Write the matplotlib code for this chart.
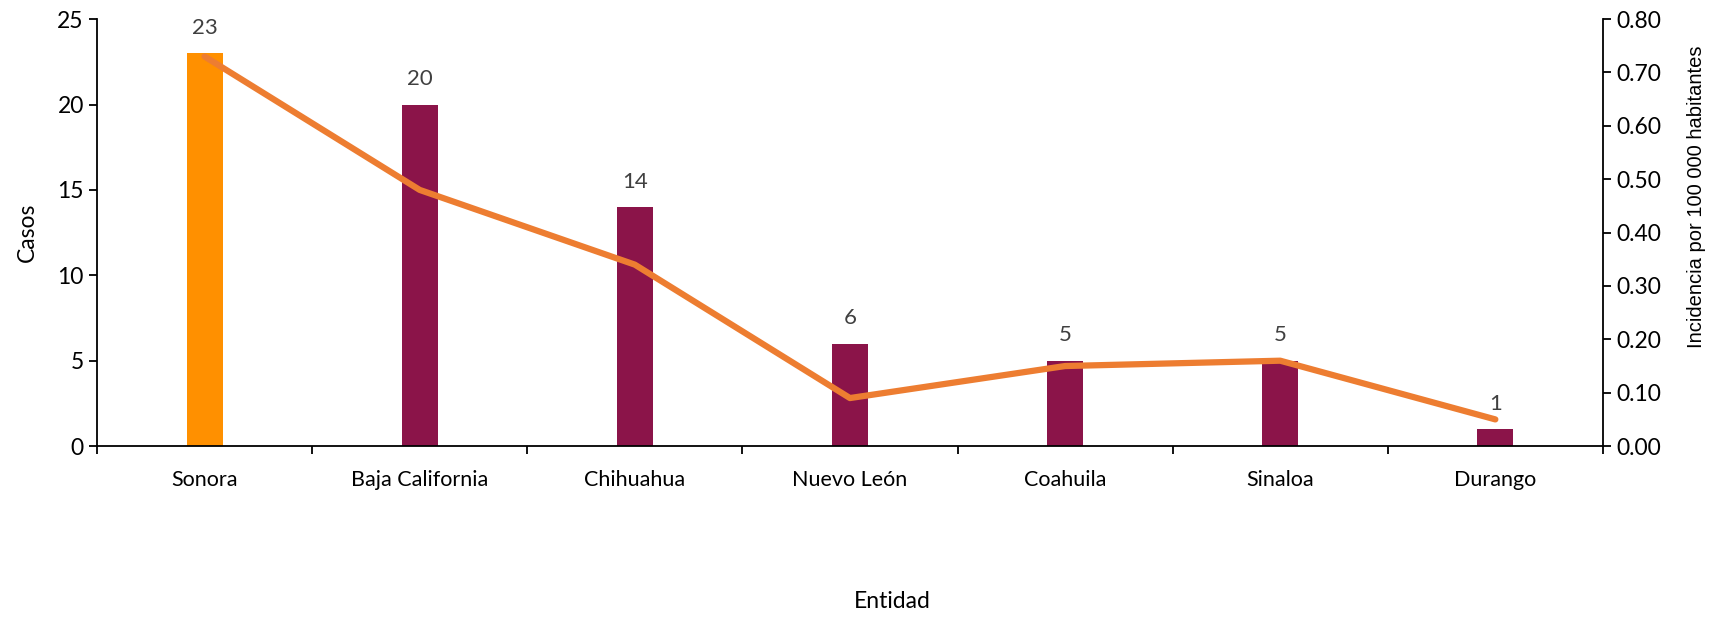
import matplotlib.pyplot as plt
import numpy as np

entidades = ["Sonora", "Baja California", "Chihuahua", "Nuevo León", "Coahuila", "Sinaloa", "Durango"]
casos = [23, 20, 14, 6, 5, 5, 1]
incidencia = [0.73, 0.48, 0.34, 0.09, 0.15, 0.16, 0.05]
bar_colors = ["#FF9000", "#8B1449", "#8B1449", "#8B1449", "#8B1449", "#8B1449", "#8B1449"]

plt.rcParams["font.family"] = ["Lato", "DejaVu Sans"]

fig = plt.figure(figsize=(17.23, 6.17), dpi=100)
ax = fig.add_axes([0.0563, 0.277, 0.874, 0.692])
x = np.arange(len(entidades))

ax.bar(x, casos, width=0.167, color=bar_colors, zorder=2)
for xi, v in zip(x, casos):
    ax.annotate(str(v), (xi, v), xytext=(0, 11), textcoords="offset points",
                ha="center", va="bottom", fontsize=16, color="#404040")

ax.set_xlim(-0.5, len(entidades) - 0.5)
ax.set_ylim(0, 25)
ax.set_yticks(range(0, 26, 5))
ax.set_xticks(x)
ax.set_xticklabels(entidades)
ax.set_xticks(np.arange(-0.5, len(entidades)), minor=True)
ax.tick_params(axis="x", which="major", length=0, pad=17, labelsize=15.5)
ax.tick_params(axis="x", which="minor", length=6, width=1.3, direction="out")
ax.tick_params(axis="y", length=6, width=1.3, labelsize=16.5)
ax.set_ylabel("Casos", fontsize=16.5, labelpad=14)
fig.text(0.518, 0.025, "Entidad", ha="center", va="center", fontsize=16.5)
for side in ["top", "right"]:
    ax.spines[side].set_visible(False)
ax.spines["left"].set_linewidth(1.3)
ax.spines["bottom"].set_linewidth(1.3)

ax2 = ax.twinx()
ax2.plot(x, incidencia, color="#ED7D31", linewidth=4.5, solid_capstyle="round", zorder=3)
ax2.set_ylim(0, 0.8)
ax2.set_yticks(np.arange(0, 0.81, 0.1))
ax2.set_yticklabels([f"{v:.2f}" for v in np.arange(0, 0.81, 0.1)])
ax2.tick_params(axis="y", length=6, width=1.3, labelsize=16.5)
ax2.set_ylabel("Incidencia por 100 000 habitantes", fontsize=14.5,
               family=["Liberation Sans", "DejaVu Sans"])
ax2.yaxis.set_label_coords(1.056, 0.585)
for side in ["top", "left", "bottom"]:
    ax2.spines[side].set_visible(False)
ax2.spines["right"].set_linewidth(1.3)

fig.savefig("out.png", dpi=100)
